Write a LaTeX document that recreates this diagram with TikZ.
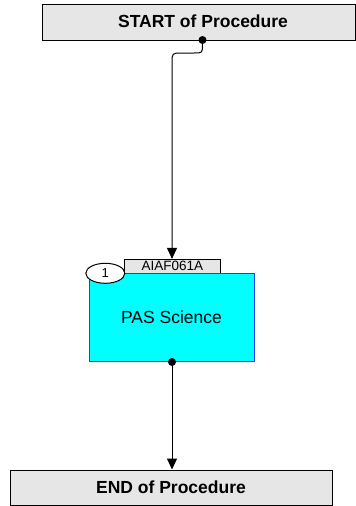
\documentclass[tikz,border=0pt]{standalone}
\usepackage{fontspec}
\setmainfont{Liberation Sans}
\usetikzlibrary{arrows.meta,shapes.geometric}
\definecolor{boxgray}{HTML}{E6E6E6}
\definecolor{actcyan}{HTML}{00FFFF}
\definecolor{actblue}{HTML}{1A3CFF}
\begin{document}
\begin{tikzpicture}[x=1pt,y=-1pt,
  termbox/.style={draw=black,fill=boxgray,line width=1pt,inner sep=0pt,font=\fontsize{17.5}{20}\selectfont\bfseries},
  actbox/.style={draw=actblue,fill=actcyan,line width=1pt,inner sep=0pt,font=\fontsize{17.5}{20}\selectfont},
  tabbox/.style={draw=black,fill=boxgray,line width=0.8pt,inner sep=0pt,font=\fontsize{13.5}{15}\selectfont},
  numell/.style={draw=black,fill=white,ellipse,line width=1pt,inner sep=0pt,minimum width=39pt,minimum height=20pt,font=\fontsize{13}{15}\selectfont},
  conn/.style={line width=1pt,-{Triangle[length=11pt,width=10pt]}},
  pin/.style={circle,fill=black,inner sep=0pt,minimum size=8pt}]
\useasboundingbox (0,0) rectangle (356,506);
% START
\node[termbox,minimum width=313pt,minimum height=36pt] (start) at (198.5,22) {};
\node[font=\fontsize{17.5}{20}\selectfont\bfseries] (starttxt) at (203,21) {START of Procedure};
% activity
\node[tabbox,minimum width=96pt,minimum height=14pt] (tab) at (172.3,266.3) {AIAF061A};
\node[actbox,minimum width=165pt,minimum height=88pt] (act) at (171.5,317.5) {PAS Science};
\node[numell] (num) at (105.3,273.3) {1};
% END
\node[termbox,minimum width=322pt,minimum height=35pt] (end) at (171,487.5) {END of Procedure};
% pins
\node[pin] (p1) at (202.5,40) {};
\node[pin] (p2) at (172,362) {};
% connectors
\draw[conn] (p1.center) -- (202.5,44) .. controls (202.5,53) .. (194,53) -- (182,53) .. controls (172,53) .. (172,63) -- (172,0 |- tab.north);
\draw[conn] (p2.center) -- (p2.center |- end.north);
\end{tikzpicture}
\end{document}
